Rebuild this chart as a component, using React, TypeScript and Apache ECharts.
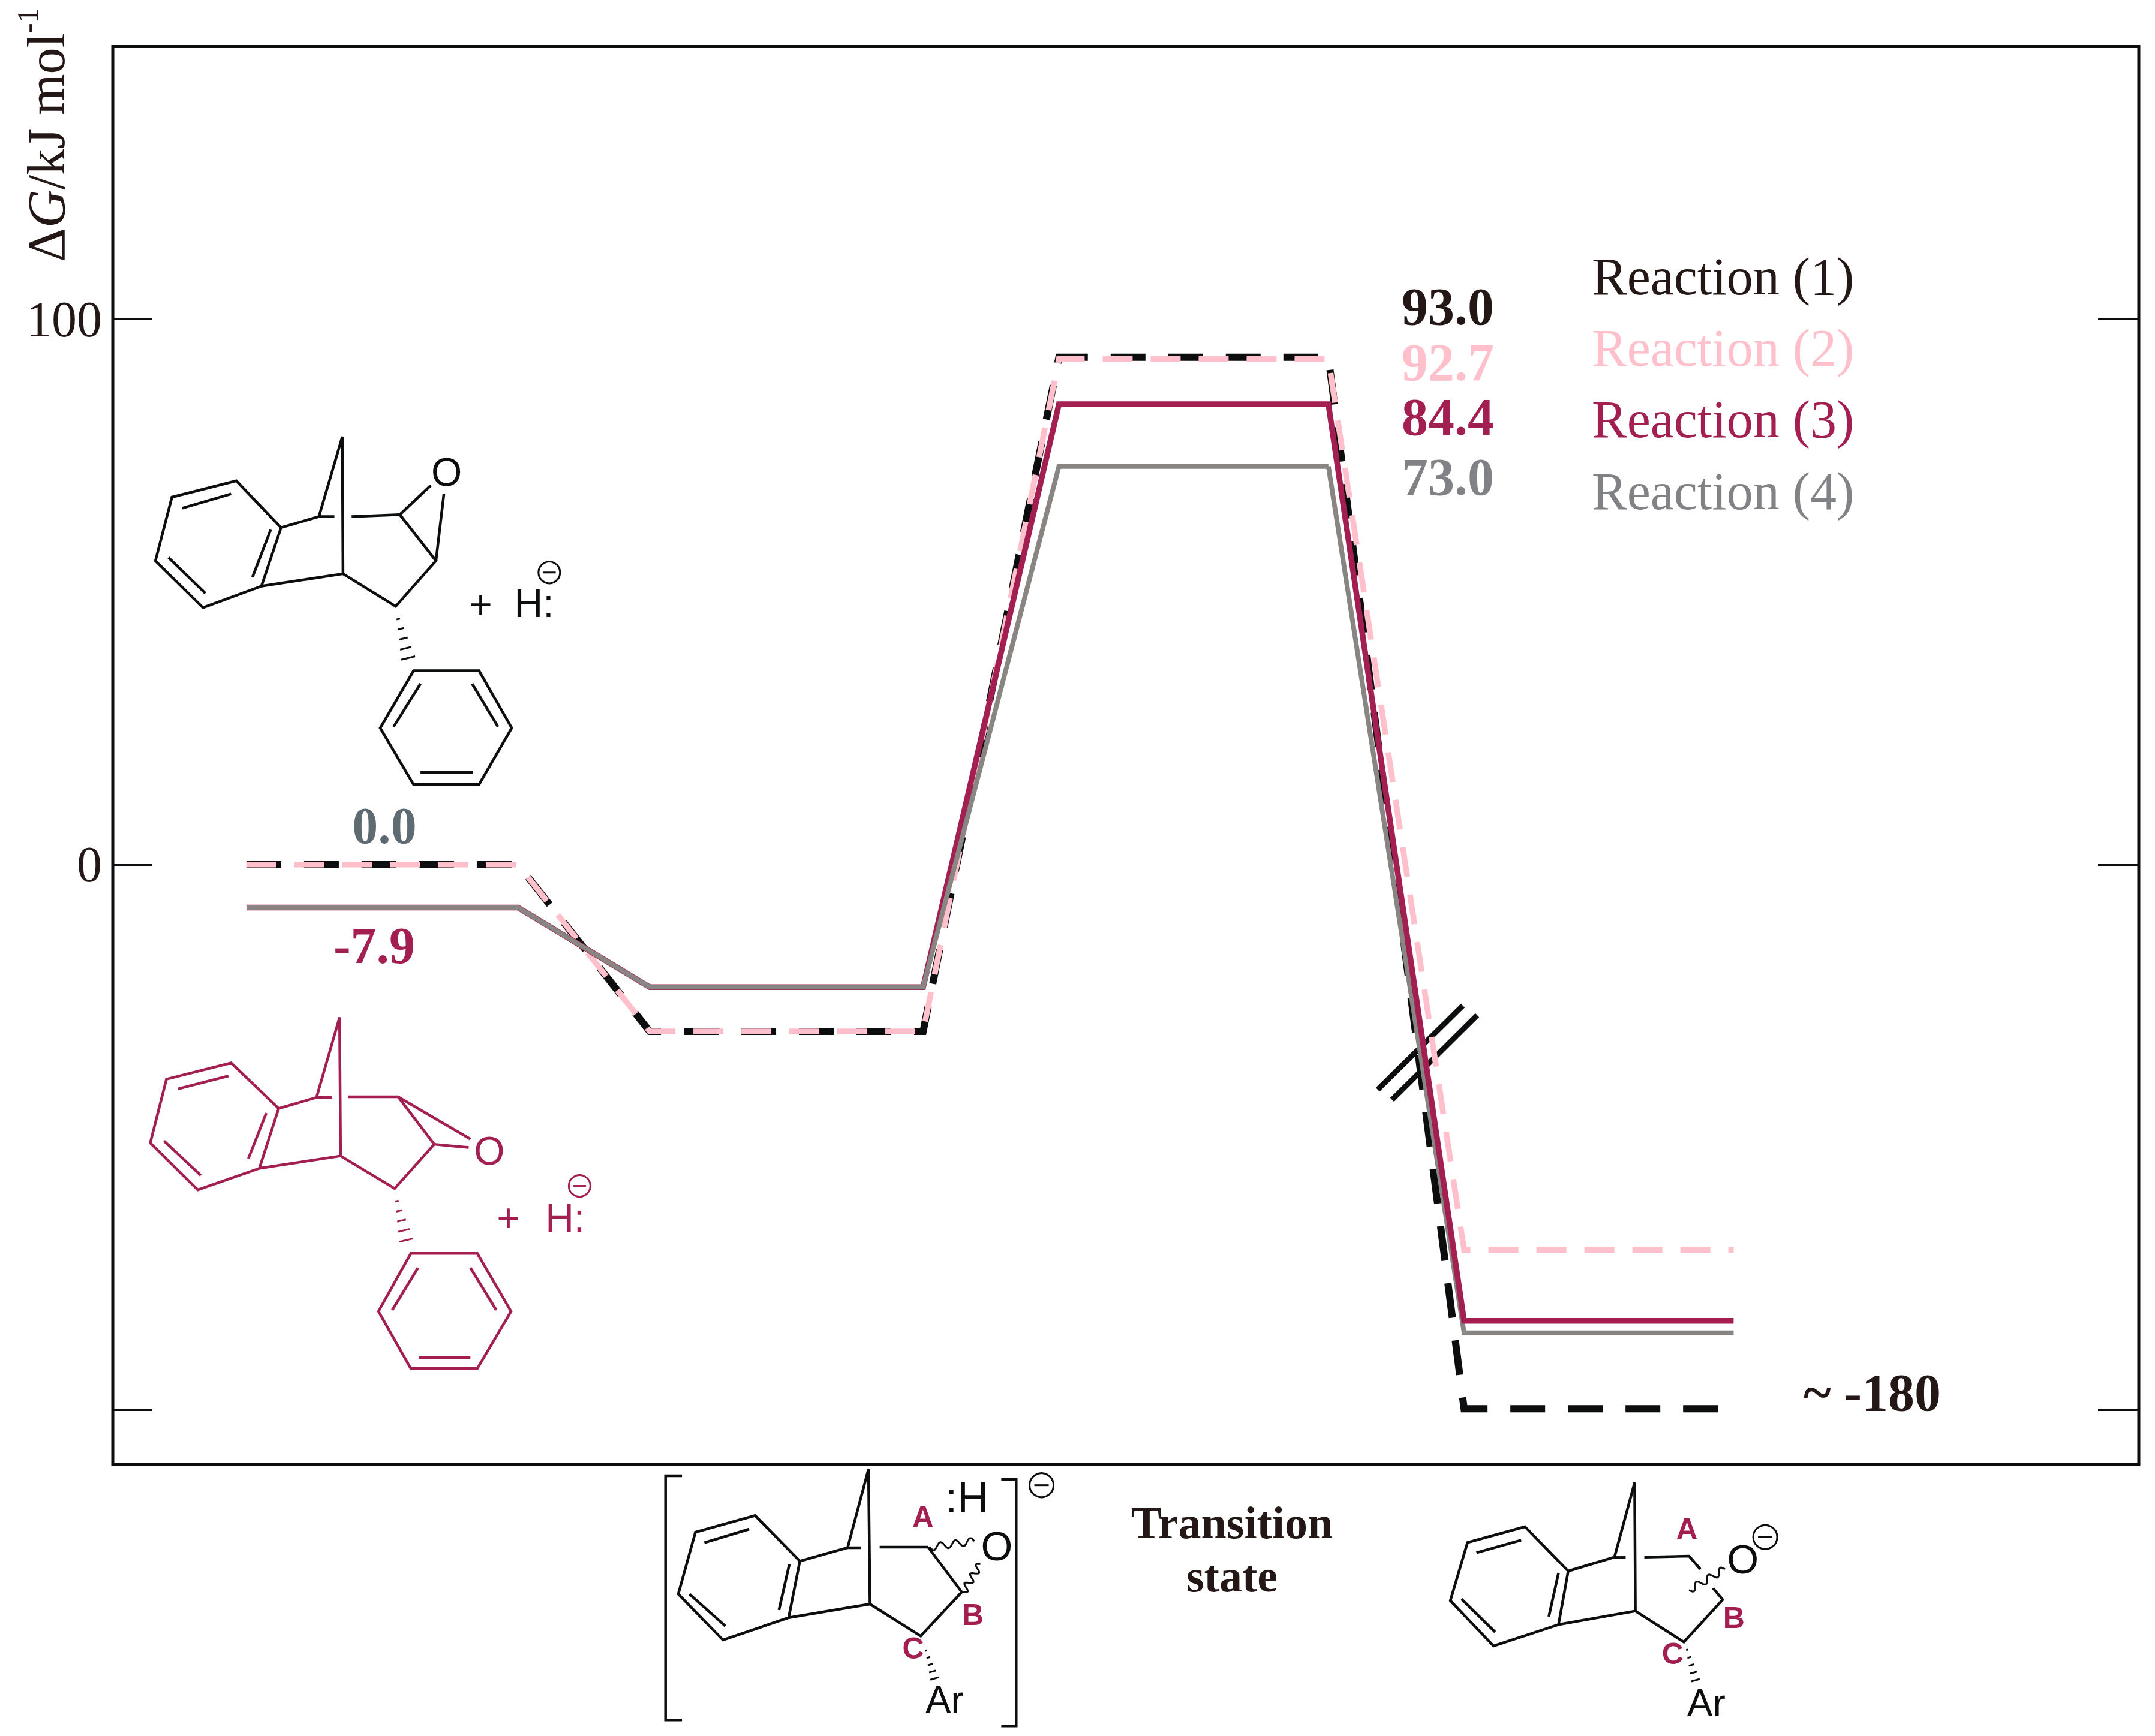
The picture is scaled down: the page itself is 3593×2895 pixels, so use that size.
import React, { useEffect, useRef } from "react";
import * as echarts from "echarts";

// ---------- data ----------
const stageX = [6.6, 20.0, 26.5, 40.0, 46.7, 60.0, 66.7, 80.0];
const reaction1 = [0, 0, -30.6, -30.6, 93.0, 93.0, -99.8, -99.8];
const reaction2 = [0, 0, -30.6, -30.6, 92.7, 92.7, -70.7, -70.7];
const reaction3 = [-7.9, -7.9, -22.5, -22.5, 84.4, 84.4, -83.7, -83.7];
const reaction4 = [-7.9, -7.9, -22.5, -22.5, 73.0, 73.0, -85.9, -85.9];
const seriesNames = ["Reaction (1)", "Reaction (2)", "Reaction (3)", "Reaction (4)"];
const labels1 = ["93.0", "92.7", "84.4", "73.0"];
const tickValues = [-100, 0, 100];
const tickLabels = [0, 100];

const BLACK = "#0b0d0e";
const TEXT = "#231815";
const PINK = "#ffc0cb";
const CRIMSON = "#a31f52";
const GREY = "#888583";
const LABEL_GREY = "#808285";
const SERIF = "Liberation Serif";
const SANS = "Liberation Sans";

type P = [number, number];
const z1 = (p: P): P => [150 + p[0] / 1.742, 650 + p[1] / 0.922];
const z2 = (p: P): P => [1050 + p[0] / 0.804, 2400 + p[1] / 3];

const poly = (pts: P[], stroke: string, lineWidth = 4.5, closed = false) => ({
  type: closed ? "polygon" : "polyline",
  shape: { points: pts },
  style: { stroke, lineWidth, fill: closed ? "none" : undefined, lineJoin: "miter" },
  silent: true,
});
const polyTrans = (raw: P[], f: (p: P) => P, stroke: string, w = 4.5, closed = false) =>
  poly(raw.map(f), stroke, w, closed);

const txt = (text: string, p: P, fontSize: number, fill: string, opts: any = {}) => ({
  type: "text",
  x: p[0],
  y: p[1],
  silent: true,
  style: {
    text,
    fontSize,
    fill,
    fontFamily: opts.fontFamily ?? SANS,
    fontWeight: opts.fontWeight ?? "normal",
    align: opts.align ?? "center",
    verticalAlign: "middle",
  },
});

const wave = (a: P, b: P, amp: number, cycles: number): P[] => {
  const out: P[] = [];
  const dx = b[0] - a[0], dy = b[1] - a[1];
  const len = Math.hypot(dx, dy);
  const nx = -dy / len, ny = dx / len;
  const n = cycles * 12;
  for (let i = 0; i <= n; i++) {
    const t = i / n;
    const s = Math.sin(t * cycles * 2 * Math.PI) * amp;
    out.push([a[0] + dx * t + nx * s, a[1] + dy * t + ny * s]);
  }
  return out;
};

const hash = (a: P, b: P, n: number, w0: number, w1: number, color: string, lw = 3) => {
  const out: any[] = [];
  const dx = b[0] - a[0], dy = b[1] - a[1];
  const len = Math.hypot(dx, dy);
  const nx = -dy / len, ny = dx / len;
  for (let i = 0; i < n; i++) {
    const t = (i + 0.5) / n;
    const w = w0 + (w1 - w0) * t;
    const c: P = [a[0] + dx * t, a[1] + dy * t];
    out.push(poly([[c[0] - nx * w, c[1] - ny * w], [c[0] + nx * w, c[1] + ny * w]], color, lw));
  }
  return out;
};

const minusCircle = (c: P, r: number, color: string) => [
  { type: "circle", shape: { cx: c[0], cy: c[1], r }, style: { stroke: color, lineWidth: 3, fill: "none" }, silent: true },
  poly([[c[0] - r * 0.6, c[1]], [c[0] + r * 0.6, c[1]]], color, 3),
];

function epoxide(color: string, isRed: boolean) {
  const g: any[] = [];
  const add = (r: P[], w = 4.5, closed = false) => g.push(polyTrans(r, z1, color, w, closed));
  if (!isRed) {
    add([[238, 165], [425, 140], [555, 212], [498, 302], [328, 335], [190, 263]], 4.5, true);
    add([[268, 182], [410, 160]]); add([[228, 258], [335, 313]]); add([[525, 215], [472, 288]]);
    add([[555, 212], [665, 195], [733, 72], [735, 283], [498, 302]]);
    add([[665, 195], [710, 195]]); add([[760, 195], [900, 192]]);
    add([[735, 283], [888, 333], [1005, 263], [900, 192]]);
    add([[900, 192], [990, 147]]); add([[1005, 263], [1028, 160]]);
    g.push(...hash(z1([892, 345]), z1([928, 420]), 5, 2, 13, color));
    add([[940, 432], [1130, 432], [1225, 520], [1130, 607], [940, 607], [843, 520]], 4.5, true);
    add([[960, 452], [882, 518]]); add([[1110, 452], [1185, 518]]); add([[960, 588], [1112, 588]]);
    g.push(txt("O", z1([1036, 126]), 66, color));
    g.push(txt("+", z1([1135, 330]), 66, color));
    g.push(txt("H:", z1([1290, 328]), 66, color));
    g.push(...minusCircle(z1([1334, 281]), 18, color));
  } else {
    add([[222, 1060], [410, 1035], [548, 1105], [492, 1197], [313, 1230], [175, 1158]], 4.5, true);
    add([[255, 1075], [402, 1055]]); add([[215, 1155], [322, 1208]]); add([[512, 1112], [460, 1182]]);
    add([[548, 1105], [658, 1088], [725, 965], [728, 1178], [492, 1197]]);
    add([[658, 1088], [702, 1088]]); add([[750, 1087], [895, 1087]]);
    add([[728, 1178], [885, 1228], [1000, 1160], [895, 1087]]);
    add([[895, 1087], [1105, 1152]]); add([[1000, 1160], [1100, 1165]]);
    g.push(...hash(z1([888, 1240]), z1([922, 1315]), 5, 2, 13, color));
    add([[932, 1328], [1125, 1328], [1223, 1417], [1125, 1505], [932, 1505], [838, 1417]], 4.5, true);
    add([[953, 1350], [878, 1415]]); add([[1105, 1350], [1180, 1415]]); add([[955, 1488], [1105, 1488]]);
    g.push(txt("O", z1([1160, 1170]), 66, color));
    g.push(txt("+", z1([1215, 1273]), 66, color));
    g.push(txt("H:", z1([1380, 1273]), 66, color));
    g.push(...minusCircle(z1([1422, 1224]), 18, color));
  }
  return g;
}

function transitionAndProduct() {
  const g: any[] = [];
  const add = (r: P[], w = 4.5, closed = false) => g.push(polyTrans(r, z2, BLACK, w, closed));
  // transition state
  add([[228, 610], [168, 382], [88, 465], [65, 775], [125, 1005], [213, 893]], 4.5, true);
  add([[160, 450], [100, 518]]); add([[80, 775], [128, 935]]); add([[214, 625], [200, 855]]);
  add([[228, 610], [292, 543], [320, 150], [322, 825], [213, 893]]);
  add([[292, 543], [310, 543]]); add([[335, 540], [400, 540]]);
  add([[400, 540], [445, 765], [390, 985], [322, 825]]);
  g.push(poly(wave(z2([402, 540]), z2([462, 510]), 6, 3), BLACK, 3));
  g.push(poly(wave(z2([447, 765]), z2([470, 625]), 6, 3), BLACK, 3));
  g.push(...hash(z2([396, 1040]), z2([410, 1215]), 5, 1, 8, BLACK));
  add([[70, 183], [48, 183], [48, 1405], [70, 1405]], 4.5);
  add([[498, 200], [518, 200], [518, 1435], [498, 1435]], 4.5);
  g.push(txt("O", z2([492, 535]), 68, BLACK));
  g.push(txt(":H", z2([452, 292]), 72, BLACK));
  g.push(...minusCircle(z2([552, 230]), 20, BLACK));
  g.push(txt("A", z2([393, 390]), 50, CRIMSON, { fontWeight: "bold" }));
  g.push(txt("B", z2([460, 878]), 50, CRIMSON, { fontWeight: "bold" }));
  g.push(txt("C", z2([380, 1048]), 50, CRIMSON, { fontWeight: "bold" }));
  g.push(txt("Ar", z2([422, 1305]), 64, BLACK));
  // product
  add([[1258, 660], [1200, 438], [1123, 517], [1100, 808], [1158, 1035], [1245, 928]], 4.5, true);
  add([[1195, 505], [1135, 568]]); add([[1115, 800], [1160, 965]]); add([[1245, 670], [1232, 888]]);
  add([[1258, 660], [1320, 590], [1347, 217], [1348, 860], [1245, 928]]);
  add([[1320, 592], [1335, 592]]); add([[1360, 590], [1420, 585], [1435, 650]]);
  add([[1452, 745], [1465, 803], [1413, 1015], [1348, 860]]);
  g.push(poly(wave(z2([1420, 755]), z2([1468, 650]), 6, 3), BLACK, 3));
  g.push(...hash(z2([1416, 1035]), z2([1430, 1225]), 5, 1, 8, BLACK));
  g.push(txt("O", z2([1492, 600]), 68, BLACK));
  g.push(...minusCircle(z2([1522, 490]), 20, BLACK));
  g.push(txt("A", z2([1417, 450]), 50, CRIMSON, { fontWeight: "bold" }));
  g.push(txt("B", z2([1480, 895]), 50, CRIMSON, { fontWeight: "bold" }));
  g.push(txt("C", z2([1398, 1075]), 50, CRIMSON, { fontWeight: "bold" }));
  g.push(txt("Ar", z2([1443, 1320]), 64, BLACK));
  return g;
}

const pairs = (ys: number[], from = 0, to = stageX.length) =>
  stageX.slice(from, to).map((x, i) => [x, ys[from + i]]);

export default function App() {
  const ref = useRef<HTMLDivElement>(null);
  useEffect(() => {
    document.body.style.margin = "0";
    document.body.style.background = "#fff";
    const chart = echarts.init(ref.current!, undefined, { renderer: "svg" });
    const labelColors = [TEXT, PINK, CRIMSON, LABEL_GREY];
    const labelY = [511, 604, 695, 795];
    const line = (name: string, data: number[][], color: string, width: number, type: any = "solid") => ({
      name,
      type: "line",
      data,
      symbol: "none",
      silent: true,
      lineStyle: { color, width, type, cap: "butt", join: "miter" },
      itemStyle: { color },
    });
    chart.setOption({
      animation: false,
      backgroundColor: "#ffffff",
      grid: { left: 188, right: 27, top: 77.5, bottom: 453, show: true, borderColor: BLACK, borderWidth: 5, backgroundColor: "transparent" },
      xAxis: { type: "value", min: 0, max: 100, show: false },
      yAxis: [0, 1].map((i) => ({
        type: "value",
        min: -110,
        max: 150,
        position: i ? "right" : "left",
        axisLine: { show: false },
        splitLine: { show: false },
        axisTick: { show: true, inside: true, length: i ? 68 : 65, lineStyle: { color: BLACK, width: 4 }, customValues: tickValues },
        axisLabel: {
          show: !i,
          fontFamily: SERIF,
          fontSize: 84,
          color: TEXT,
          margin: 18,
          customValues: tickLabels,
        },
      })),
      legend: {
        show: true,
        orient: "vertical",
        left: 2654,
        top: 417,
        itemWidth: 0,
        itemHeight: 0,
        itemGap: 31.4,
        selectedMode: false,
        padding: 0,
        icon: "none",
        data: seriesNames.map((name, i) => ({
          name,
          icon: "none",
          textStyle: { color: labelColors[i], fontFamily: SERIF, fontSize: 88, padding: [0, 0, 0, -5] },
        })),
      },
      series: [
        line(seriesNames[0], pairs(reaction1), BLACK, 12, [58, 38]),
        line(seriesNames[1], pairs(reaction2), PINK, 9.5, [50, 30]),
        line(seriesNames[3], pairs(reaction4, 5), GREY, 8),
        line(seriesNames[2], pairs(reaction3), CRIMSON, 9.5),
        line(seriesNames[3], pairs(reaction4, 0, 6), GREY, 8),
      ],
      graphic: [
        {
          type: "text",
          x: 71,
          y: 225,
          rotation: Math.PI / 2,
          silent: true,
          style: {
            text: "{a|Δ}{i|G}{a|/kJ mol}{s|-1}",
            align: "center",
            verticalAlign: "middle",
            rich: {
              a: { fontFamily: SERIF, fontSize: 88, fill: TEXT, color: TEXT, lineHeight: 100, verticalAlign: "bottom" },
              i: { fontFamily: SERIF, fontSize: 88, fontStyle: "italic", fill: TEXT, color: TEXT, lineHeight: 100, verticalAlign: "bottom" },
              s: { fontFamily: SERIF, fontSize: 50, fill: TEXT, color: TEXT, verticalAlign: "top" },
            },
          },
        },
        ...labels1.map((t, i) => txt(t, [2337, labelY[i]], 88, labelColors[i], { fontFamily: SERIF, fontWeight: "bold", align: "left" })),
        txt("0.0", [641, 1377], 86, "#5f6b73", { fontFamily: SERIF, fontWeight: "bold" }),
        txt("-7.9", [624, 1577], 86, CRIMSON, { fontFamily: SERIF, fontWeight: "bold" }),
        txt("~ -180", [3007, 2322], 88, TEXT, { fontFamily: SERIF, fontWeight: "bold", align: "left" }),
        txt("Transition", [2054, 2539], 76, TEXT, { fontFamily: SERIF, fontWeight: "bold" }),
        txt("state", [2054, 2628], 76, TEXT, { fontFamily: SERIF, fontWeight: "bold" }),
        poly([[2439, 1677], [2297, 1817]], BLACK, 9),
        poly([[2463, 1693], [2321, 1834]], BLACK, 9),
        ...epoxide(BLACK, false),
        ...epoxide(CRIMSON, true),
        ...transitionAndProduct(),
      ],
    });
    return () => chart.dispose();
  }, []);
  return <div ref={ref} style={{ width: 3593, height: 2895, position: "absolute", left: 0, top: 0 }} />;
}
